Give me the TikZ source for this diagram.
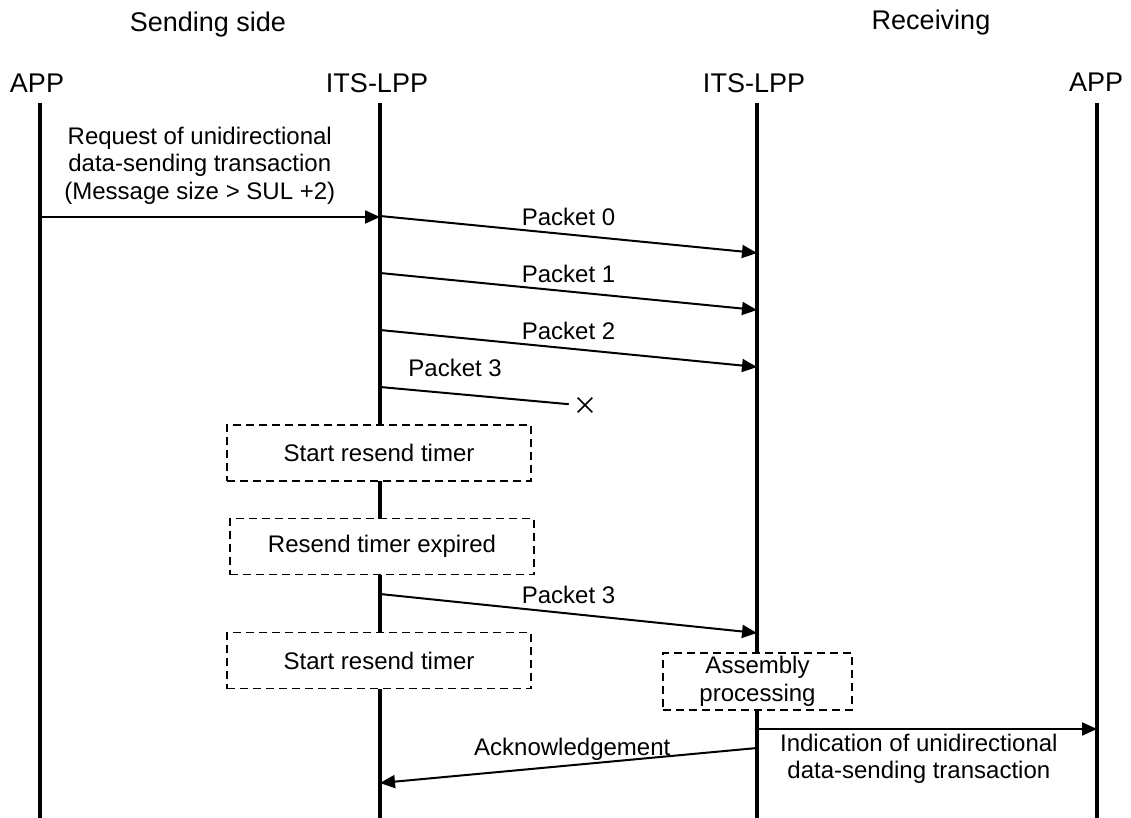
\documentclass[tikz,border=0pt]{standalone}
\usepackage{fontspec}
\setmainfont{Liberation Sans}
\usetikzlibrary{arrows.meta,positioning,shapes.misc}

\begin{document}
\begin{tikzpicture}[
x=1pt, y=-1pt,
head/.style={font=\fontsize{27}{31}\selectfont, inner sep=0pt},
lbl/.style={font=\fontsize{24}{27.5}\selectfont, align=center, inner sep=0pt},
life/.style={line width=4pt},
msg/.style={-{Triangle[length=15pt,width=13pt]}, line width=2pt},
timerbox/.style={draw, dash pattern=on 8pt off 5pt, line width=1.8pt, fill=white, minimum width=304pt, minimum height=56pt, font=\fontsize{24}{27.5}\selectfont, align=center, inner sep=0pt}
]
\useasboundingbox (0,0) rectangle (1131,818);
% headings
\node[head] (sendside) at (208,25) {Sending side};
\node[head] (recvside) at (931,23) {Receiving};
\node[head] (appL) at (37,83) {APP};
\node[head] (lppL) at (377,83) {ITS-LPP};
\node[head] (lppR) at (754,83) {ITS-LPP};
\node[head] (appR) at (1096,82) {APP};
% lifelines
\coordinate (appLtop) at (40,103);
\coordinate (lppLtop) at (380,103);
\coordinate (lppRtop) at (757,103);
\coordinate (appRtop) at (1097,103);
\foreach \n in {appL,lppL,lppR,appR}
  \draw[life] (\n top) -- (\n top |- 0,818);
% request
\draw[msg] (appLtop |- 0,217) -- node[lbl, pos=0.47, above=12pt] {Request of unidirectional\\data-sending transaction\\(Message size > SUL +2)} (lppLtop |- 0,217);
% packets
\draw[msg] (lppLtop |- 0,216) -- node[lbl, above=8pt] {Packet 0} (lppRtop |- 0,253);
\draw[msg] (lppLtop |- 0,273) -- node[lbl, above=8pt] {Packet 1} (lppRtop |- 0,310);
\draw[msg] (lppLtop |- 0,330) -- node[lbl, above=8pt] {Packet 2} (lppRtop |- 0,367);
\node[draw, cross out, minimum size=13pt, inner sep=0pt, line width=1.6pt] (lost) at (585,405) {};
\draw[line width=2pt, shorten >=9pt] (lppLtop |- 0,387) -- node[lbl, pos=0.38, above=16pt] {Packet 3} (lost.west);
% timers
\node[timerbox] (timer1) at (379,453) {Start resend timer};
\node[timerbox] (expired) at (382,546.5) {Resend timer expired};
\draw[msg] (lppLtop |- 0,594) -- node[lbl, above=9pt] {Packet 3} (lppRtop |- 0,633);
\node[timerbox] (timer2) at (379,660.5) {Start resend timer};
\node[timerbox, minimum width=189pt, minimum height=57pt] (assembly) at (757.5,681.5) {Assembly\\processing};
% delivery and ack
\draw[msg] (lppRtop |- 0,729) -- node[lbl, pos=0.476, below=4pt] {Indication of unidirectional\\data-sending transaction} (appRtop |- 0,729);
\draw[msg] (lppRtop |- 0,748) -- node[lbl, pos=0.49, above=4pt] {Acknowledgement} (lppLtop |- 0,783);
\end{tikzpicture}
\end{document}
